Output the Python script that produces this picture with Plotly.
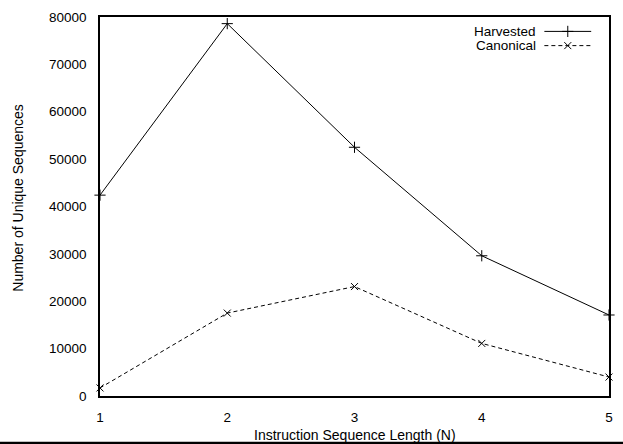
import plotly.graph_objects as go

n_values = [1, 2, 3, 4, 5]
harvested = [42400, 78600, 52500, 29600, 17100]
canonical = [1700, 17500, 23100, 11100, 4000]
y_ticks = [0, 10000, 20000, 30000, 40000, 50000, 60000, 70000, 80000]
series_names = ["Harvested", "Canonical"]

FONT = "Liberation Sans, Arial, Helvetica, sans-serif"

fig = go.Figure()
fig.add_trace(go.Scatter(
    x=n_values, y=harvested, mode="lines+markers", name=series_names[0],
    line=dict(color="black", width=1),
    marker=dict(symbol="cross-thin", size=8, line=dict(color="black", width=1)),
    cliponaxis=False, showlegend=False))
fig.add_trace(go.Scatter(
    x=n_values, y=canonical, mode="lines+markers", name=series_names[1],
    line=dict(color="black", width=1, dash="4px,3px"),
    marker=dict(symbol="x-thin", size=7, line=dict(color="black", width=1)),
    cliponaxis=False, showlegend=False))

# custom gnuplot-style legend (text right, sample on the right)
leg_x = [0.873, 0.965]
for nm, dash, sym, yp in [
        (series_names[0], "solid", "cross-thin", 0.962),
        (series_names[1], "4px,3px", "x-thin", 0.9245)]:
    fig.add_trace(go.Scatter(
        x=leg_x, y=[yp, yp], xaxis="x2", yaxis="y2", mode="lines",
        line=dict(color="black", width=1, dash=dash), showlegend=False, hoverinfo="skip"))
    fig.add_trace(go.Scatter(
        x=[sum(leg_x) / 2], y=[yp], xaxis="x2", yaxis="y2", mode="markers",
        marker=dict(symbol=sym, size=7 if sym == "x-thin" else 8, line=dict(color="black", width=1)),
        showlegend=False, hoverinfo="skip"))
    fig.add_annotation(x=0.858, y=yp, xref="paper", yref="paper", text=nm,
                       showarrow=False, xanchor="right", yanchor="middle",
                       borderpad=0,
                       font=dict(family=FONT, size=13.5, color="black"))

fig.add_annotation(x=0.5, y=-0.1024, xref="paper", yref="paper",
                   text="Instruction Sequence Length (N)", showarrow=False,
                   xanchor="center", yanchor="middle",
                   font=dict(family=FONT, size=14, color="black"))
fig.add_annotation(x=-0.16, y=0.522, xref="paper", yref="paper",
                   text="Number of Unique Sequences", showarrow=False, textangle=-90,
                   xanchor="center", yanchor="middle",
                   font=dict(family=FONT, size=14, color="black"))

# black rule at the very bottom of the picture
fig.add_shape(type="rect", xref="paper", yref="paper",
              x0=-0.2, x1=1.03, y0=-0.135, y1=-0.1207,
              fillcolor="black", line=dict(width=0))

fig.update_layout(
    width=623, height=444,
    margin=dict(l=100, r=10, t=15, b=48),
    paper_bgcolor="white", plot_bgcolor="white",
    font=dict(family=FONT, size=13.5, color="black"),
    xaxis=dict(range=[1, 5], tickvals=n_values, ticktext=[str(v) for v in n_values],
               showgrid=False, zeroline=False, showline=True, mirror=True,
               linecolor="black", linewidth=1.5, ticks="", ticklabelstandoff=8,
               tickfont=dict(family=FONT, size=13.5)),
    yaxis=dict(range=[0, 80000], tickvals=y_ticks, ticktext=[str(v) for v in y_ticks],
               showgrid=False, zeroline=False, showline=True, mirror=True,
               linecolor="black", linewidth=1.5, ticks="", ticklabelstandoff=9,
               tickfont=dict(family=FONT, size=13.5)),
    xaxis2=dict(range=[0, 1], overlaying="x", visible=False, domain=[0, 1]),
    yaxis2=dict(range=[0, 1], overlaying="y", visible=False),
)

fig.write_html("out.html", config={"displayModeBar": False},
               post_script="document.body.style.margin='0';document.body.style.overflow='hidden';")
